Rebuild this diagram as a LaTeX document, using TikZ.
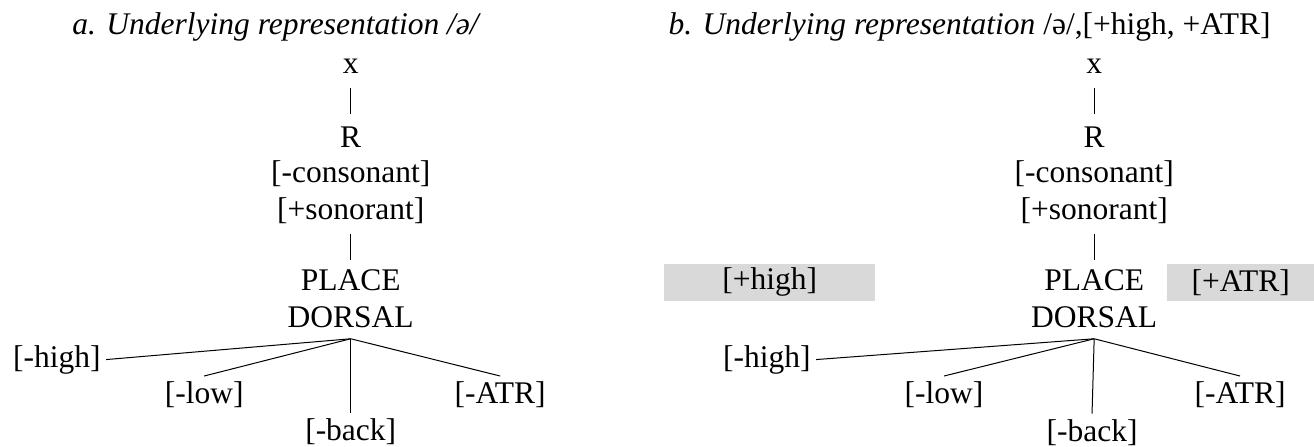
\documentclass[tikz,border=0pt]{standalone}
\usepackage{fontspec}
\setmainfont{Liberation Serif}
\usetikzlibrary{positioning}

\begin{document}
\begin{tikzpicture}[
        font=\fontsize{12.6}{15}\selectfont,
        seg/.style={anchor=base, inner sep=4pt},
        feat/.style={anchor=base, inner sep=2pt},
        shaded/.style={fill=gray!30, inner sep=0pt, minimum height=0.52cm},
        heading/.style={anchor=base west, inner sep=0pt, font=\fontsize{12.6}{15}\selectfont\itshape}
    ]
    \useasboundingbox (0,0) rectangle (18.47,-6.27);

    % Titles
    \node[heading] (title_a) at (1.01,-0.48) {a. Underlying representation /ə/};
    \node[heading] (title_b) at (9.39,-0.48) {b. Underlying representation \upshape/ə/,[+high, +ATR]};

    % --- a: tree ---
    \node[seg] (x_a) at (4.93,-1.03) {x};
    \node[seg] (R_a) at (4.93,-2.07) {R};
    \node[seg] (cons_a) at (4.93,-2.56) {[-consonant]};
    \node[seg] (son_a) at (4.93,-3.08) {[+sonorant]};
    \node[seg] (place_a) at (4.93,-4.09) {PLACE};
    \node[seg] (dors_a) at (4.93,-4.61) {DORSAL};

    \node[feat] (hi_a) at (0.80,-5.16) {[-high]};
    \node[feat] (lo_a) at (2.87,-5.67) {[-low]};
    \node[feat] (bk_a) at (4.93,-6.19) {[-back]};
    \node[feat] (atr_a) at (7.03,-5.67) {[-ATR]};

    % --- b: tree ---
    \node[seg] (x_b) at (15.38,-1.03) {x};
    \node[seg] (R_b) at (15.38,-2.07) {R};
    \node[seg] (cons_b) at (15.38,-2.56) {[-consonant]};
    \node[seg] (son_b) at (15.38,-3.08) {[+sonorant]};
    \node[seg] (place_b) at (15.38,-4.09) {PLACE};
    \node[seg] (dors_b) at (15.38,-4.61) {DORSAL};

    \node[feat] (hi_b) at (10.78,-5.16) {[-high]};
    \node[feat] (lo_b) at (13.27,-5.67) {[-low]};
    \node[feat] (bk_b) at (15.35,-6.20) {[-back]};
    \node[feat] (atr_b) at (17.43,-5.67) {[-ATR]};

    % Floating features (shaded)
    \node[shaded, minimum width=2.97cm] (plus_high) at (10.82,-3.97) {[+high]};
    \node[shaded, minimum width=2.07cm] (plus_atr) at (17.44,-3.97) {[+ATR]};

    % --- Edges ---
    \draw[shorten <=1.5pt, shorten >=1pt] (x_a) -- (R_a);
    \draw (son_a) -- (place_a);
    \draw (dors_a.south) -- (hi_a.east);
    \draw (dors_a.south) -- (lo_a.north);
    \draw (dors_a.south) -- (bk_a.north);
    \draw (dors_a.south) -- (atr_a.north);

    \draw[shorten <=1.5pt, shorten >=1pt] (x_b) -- (R_b);
    \draw (son_b) -- (place_b);
    \draw (dors_b.south) -- (hi_b.east);
    \draw (dors_b.south) -- (lo_b.north);
    \draw (dors_b.south) -- (bk_b.north);
    \draw (dors_b.south) -- (atr_b.north);

\end{tikzpicture}
\end{document}
